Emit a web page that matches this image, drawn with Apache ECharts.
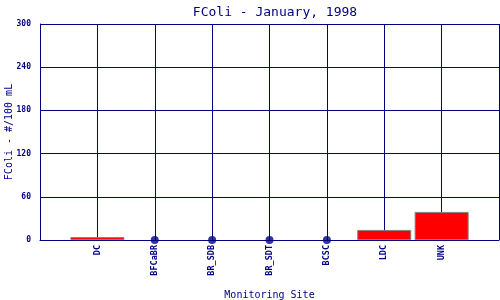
<!DOCTYPE html>
<html><head><meta charset="utf-8">
<script src="https://cdn.jsdelivr.net/npm/echarts@6/dist/echarts.min.js"></script>
<style>html,body{margin:0;padding:0;background:#fff}#c{width:500px;height:300px}</style>
</head><body><div id="c"></div>
<script>
const categories = ['DC','BFCaBR','BR_SDB','BR_SDT','BCSC','LDC','UNK'];
const values = [4,0,0,0,0,14,39];
const yTicks = [0,60,120,180,240,300];

const navy = '#000080';
const font = '"DejaVu Sans Mono", "Liberation Mono", monospace';
const barData = [], dotData = [];
values.forEach((v,i)=>{ if (v>0) barData.push([i+1,v]); else dotData.push([i+1,v]); });

const chart = echarts.init(document.getElementById('c'), null, {renderer:'canvas'});
chart.setOption({
  animation:false,
  backgroundColor:'#fff',
  title:{text:'FColi - January, 1998', left:270, top:1, textAlign:'center',
    textStyle:{color:navy, fontFamily:font, fontSize:13, fontWeight:'normal'}},
  grid:{left:40, right:1, top:24, bottom:60, containLabel:false, outerBoundsMode:'none'},
  xAxis:{type:'value', min:0, max:categories.length+1, interval:1,
    name:'Monitoring Site', nameLocation:'middle', nameGap:50, nameMoveOverlap:false,
    nameTextStyle:{color:navy, fontFamily:font, fontSize:10},
    axisLine:{show:true, lineStyle:{color:navy, width:1}},
    axisTick:{show:false},
    axisLabel:{rotate:90, margin:5, color:navy, fontFamily:font, fontSize:8.5, fontWeight:'bold',
      formatter:v=> (v>=1 && v<=categories.length) ? categories[v-1] : ''},
    splitLine:{show:true, lineStyle:{color:navy, width:1}}},
  yAxis:{type:'value', min:yTicks[0], max:yTicks[yTicks.length-1], interval:yTicks[1]-yTicks[0],
    name:'FColi - #/100 mL', nameLocation:'middle', nameGap:26, nameMoveOverlap:false,
    nameTextStyle:{color:navy, fontFamily:font, fontSize:10},
    axisLine:{show:true, lineStyle:{color:navy, width:1}},
    axisTick:{show:false},
    axisLabel:{margin:9, color:navy, fontFamily:font, fontSize:8, fontWeight:'bold'},
    splitLine:{show:true, lineStyle:{color:navy, width:1}}},
  series:[
    {type:'bar', data:barData, barWidth:54,
      itemStyle:{color:'#ff0000', borderColor:'#808080', borderWidth:1}},
    {type:'scatter', data:dotData, symbol:'circle', symbolSize:8,
      itemStyle:{color:navy}, z:5}
  ]
});
</script></body></html>
